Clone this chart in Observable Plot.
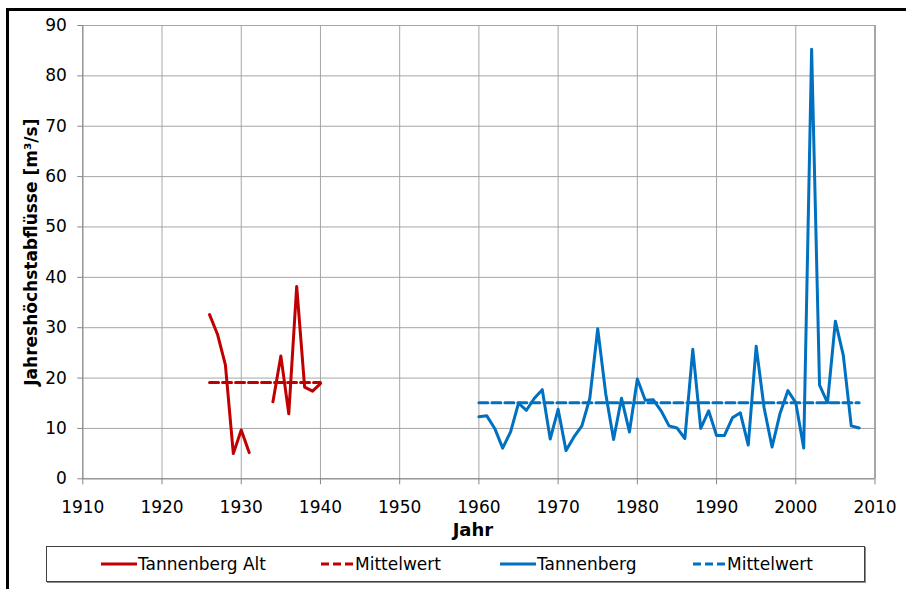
<!DOCTYPE html>
<html><head><meta charset="utf-8">
<script src="https://cdn.jsdelivr.net/npm/d3@7"></script>
<script src="https://cdn.jsdelivr.net/npm/@observablehq/plot@0.6"></script>
<style>
html,body{margin:0;padding:0;background:#fff;}
body{width:906px;height:589px;position:relative;overflow:hidden;font-family:"DejaVu Sans",Verdana,sans-serif;}
#frame{position:absolute;left:6px;top:8px;width:900px;height:581px;border-top:3px solid #000;border-left:3px solid #000;box-sizing:border-box;pointer-events:none;z-index:2;}
#chart{position:absolute;left:0;top:0;}
#legend{position:absolute;left:46px;top:546px;width:819px;height:36px;border:1px solid #404040;box-sizing:border-box;background:#fff;box-shadow:1px 1px 0 #8c8c8c;}
.item{position:absolute;top:0;height:34px;display:flex;align-items:center;font-size:17px;color:#000;white-space:nowrap;}
.item svg{margin-right:1px;}
</style></head><body>
<div id="frame"></div>
<div id="chart"></div>
<div id="legend"></div>
<script>
// ---- data ----
const xTicks = [1910, 1920, 1930, 1940, 1950, 1960, 1970, 1980, 1990, 2000, 2010];
const yTicks = [0, 10, 20, 30, 40, 50, 60, 70, 80, 90];

const altYears  = [1926, 1927, 1928, 1929, 1930, 1931, 1932, 1933, 1934, 1935, 1936, 1937, 1938, 1939, 1940];
const altValues = [32.6, 28.7, 22.6, 5.0, 9.7, 5.2, null, null, 15.3, 24.4, 12.9, 38.2, 18.2, 17.4, 18.9];
const altMean = 19.1;

const newYears = [1960, 1961, 1962, 1963, 1964, 1965, 1966, 1967, 1968, 1969,
                  1970, 1971, 1972, 1973, 1974, 1975, 1976, 1977, 1978, 1979,
                  1980, 1981, 1982, 1983, 1984, 1985, 1986, 1987, 1988, 1989,
                  1990, 1991, 1992, 1993, 1994, 1995, 1996, 1997, 1998, 1999,
                  2000, 2001, 2002, 2003, 2004, 2005, 2006, 2007, 2008];
const newValues = [12.3, 12.5, 10.0, 6.1, 9.3, 15.0, 13.6, 16.0, 17.7, 7.9,
                   13.8, 5.6, 8.3, 10.5, 16.0, 29.8, 17.0, 7.8, 16.0, 9.3,
                   19.8, 15.6, 15.7, 13.5, 10.5, 10.1, 8.0, 25.7, 10.0, 13.5,
                   8.6, 8.6, 12.1, 13.1, 6.7, 26.3, 14.1, 6.3, 12.9, 17.5,
                   15.1, 6.1, 85.3, 18.6, 15.1, 31.3, 24.5, 10.5, 10.1];
const newMean = 15.1;

const seriesNames = ["Tannenberg Alt", "Mittelwert", "Tannenberg", "Mittelwert"];
const xLabel = "Jahr";
const yLabel = "Jahreshöchstabflüsse [m³/s]";

// ---- build tables ----
const RED = "#C00000", BLUE = "#0070C0";
const altData = altYears.map((year, i) => ({year, value: altValues[i]}));
const newData = newYears.map((year, i) => ({year, value: newValues[i]}));
const altMeanData = [altYears[0], altYears[altYears.length - 1]].map(year => ({year, value: altMean}));
const newMeanData = [newYears[0], newYears[newYears.length - 1]].map(year => ({year, value: newMean}));

const plot = Plot.plot({
  width: 906, height: 545,
  marginLeft: 82.3, marginRight: 31.5, marginTop: 25, marginBottom: 66.7,
  x: {domain: [1910, 2010]},
  y: {domain: [0, 90]},
  style: {fontFamily: '"DejaVu Sans", Verdana, sans-serif', fontSize: "17px", color: "#000", background: "transparent", overflow: "visible"},
  marks: [
    Plot.gridX(xTicks, {stroke: "#a6a6a6", strokeOpacity: 1, strokeWidth: 1}),
    Plot.gridY(yTicks, {stroke: "#a6a6a6", strokeOpacity: 1, strokeWidth: 1}),
    Plot.ruleX([xTicks[0]], {stroke: "#868686", strokeWidth: 1}),
    Plot.ruleX([xTicks[xTicks.length - 1]], {stroke: "#a6a6a6", strokeWidth: 2}),
    Plot.ruleY([0], {stroke: "#868686", strokeWidth: 1}),
    Plot.axisX({ticks: xTicks, tickSize: 6, tickPadding: 16.5, stroke: "#868686", label: null, fontSize: 17, tickFormat: d => String(d)}),
    Plot.axisY({ticks: yTicks, tickSize: 5, tickPadding: 11, stroke: "#868686", label: null, fontSize: 17}),
    Plot.line(altMeanData, {x: "year", y: "value", stroke: RED, strokeWidth: 3, strokeDasharray: "9,4"}),
    Plot.line(newMeanData, {x: "year", y: "value", stroke: BLUE, strokeWidth: 3, strokeDasharray: "9,4"}),
    Plot.line(altData, {x: "year", y: "value", stroke: RED, strokeWidth: 3}),
    Plot.line(newData, {x: "year", y: "value", stroke: BLUE, strokeWidth: 3}),
    Plot.text([xLabel], {frameAnchor: "bottom", dx: -6, dy: 57, text: d => d, textAnchor: "middle", fontWeight: "bold", fontSize: 18, fill: "#000"}),
    Plot.text([yLabel], {frameAnchor: "left", dx: -51, rotate: -90, text: d => d, textAnchor: "middle", fontWeight: "bold", fontSize: 17, fill: "#000"})
  ]
});
document.getElementById("chart").appendChild(plot);

// ---- legend ----
const legendItems = [
  {name: seriesNames[0], color: RED, dash: null, left: 54},
  {name: seriesNames[1], color: RED, dash: "8,4", left: 274},
  {name: seriesNames[2], color: BLUE, dash: null, left: 453},
  {name: seriesNames[3], color: BLUE, dash: "8,4", left: 646}
];
const legend = document.getElementById("legend");
for (const it of legendItems) {
  const div = document.createElement("div");
  div.className = "item";
  div.style.left = it.left + "px";
  const w = it.dash ? 33 : 36;
  div.innerHTML = `<svg width="${w}" height="6"><line x1="0" x2="${w}" y1="3" y2="3" stroke="${it.color}" stroke-width="3" ${it.dash ? `stroke-dasharray="${it.dash}"` : ""}/></svg><span>${it.name}</span>`;
  legend.appendChild(div);
}
</script>
</body></html>
